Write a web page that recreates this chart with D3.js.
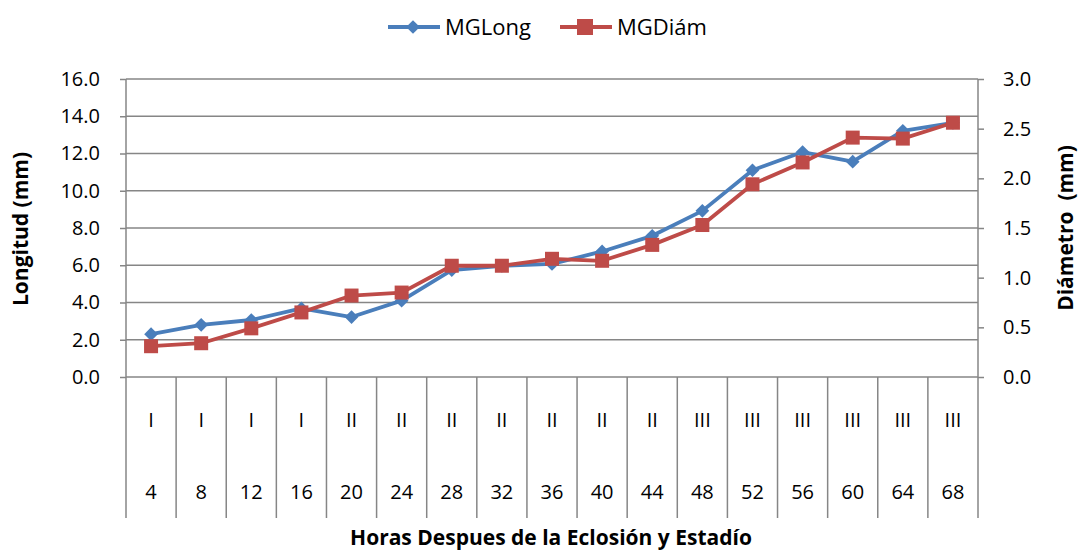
<!DOCTYPE html>
<html>
  <head>
    <meta charset="utf-8" />
    <title>MGLong / MGDiám</title>
    <script src="https://d3js.org/d3.v7.min.js"></script>
    <style>
      body { margin: 0; background: #fff; }
      text { font-family: "Open Sans", sans-serif; fill: #000; }
    </style>
  </head>
  <body>
    <svg id="viz"></svg>

    <script>
        // data
        var horas = ["4", "8", "12", "16", "20", "24", "28", "32", "36", "40", "44", "48", "52", "56", "60", "64", "68"];
        var estadio = ["I", "I", "I", "I", "II", "II", "II", "II", "II", "II", "II", "III", "III", "III", "III", "III", "III"];
        var mgLong = [2.3, 2.8, 3.06, 3.68, 3.22, 4.1, 5.74, 5.97, 6.07, 6.74, 7.58, 8.92, 11.1, 12.08, 11.56, 13.22, 13.65];
        var mgDiam = [0.31, 0.34, 0.49, 0.65, 0.82, 0.85, 1.12, 1.12, 1.19, 1.17, 1.33, 1.53, 1.94, 2.16, 2.41, 2.40, 2.56];
        var leftTicks = [0, 2, 4, 6, 8, 10, 12, 14, 16];
        var rightTicks = [0, 0.5, 1, 1.5, 2, 2.5, 3];

        var width = 1085, height = 551;
        var plotL = 126, plotR = 978, plotT = 79, plotB = 377, sepB = 518;
        var blue = "#4A7EBB", red = "#BE4B48", grid = "#868686";

        var svg = d3.select("#viz")
            .attr("width", width)
            .attr("height", height);

        var x = d3.scaleBand().domain(d3.range(horas.length)).range([plotL, plotR]);
        var yL = d3.scaleLinear().domain([0, 16]).range([plotB, plotT]);
        var yR = d3.scaleLinear().domain([0, 3]).range([plotB, plotT]);

        // gridlines
        svg.append("g").selectAll("line")
            .data(leftTicks)
            .enter().append("line")
            .attr("x1", plotL).attr("x2", plotR)
            .attr("y1", function(d) { return yL(d); })
            .attr("y2", function(d) { return yL(d); })
            .style("stroke", grid).style("stroke-width", 1.5);

        // left and right value axes
        var axL = svg.append("g")
            .attr("transform", "translate(" + plotL + ",0)")
            .call(d3.axisLeft(yL).tickValues(leftTicks).tickFormat(d3.format(".1f")).tickSize(6).tickPadding(20));
        var axR = svg.append("g")
            .attr("transform", "translate(" + plotR + ",0)")
            .call(d3.axisRight(yR).tickValues(rightTicks).tickFormat(d3.format(".1f")).tickSize(6).tickPadding(19));
        [axL, axR].forEach(function(a) {
            a.select(".domain").remove();
            a.selectAll("line").style("stroke", grid).style("stroke-width", 1.5);
            a.selectAll("text")
                .style("font-size", "20px")
                .style("font-family", "'Open Sans', sans-serif")
                .attr("fill", "#000");
        });

        // category separators (edges run the full height)
        var seps = d3.range(horas.length + 1).map(function(i) {
            return i < horas.length ? x(i) : plotR;
        });
        svg.append("g").selectAll("line")
            .data(seps)
            .enter().append("line")
            .attr("x1", function(d) { return d; }).attr("x2", function(d) { return d; })
            .attr("y1", function(d, i) { return (i === 0 || i === horas.length) ? plotT : plotB; })
            .attr("y2", sepB)
            .style("stroke", grid).style("stroke-width", 1.5);

        // category labels, two levels
        var cx = function(d, i) { return x(i) + x.bandwidth() / 2; };
        svg.append("g").selectAll("text")
            .data(estadio)
            .enter().append("text")
            .attr("x", cx)
            .attr("y", 427)
            .attr("text-anchor", "middle")
            .style("font-size", "20px")
            .text(function(d) { return d; });
        svg.append("g").selectAll("text")
            .data(horas)
            .enter().append("text")
            .attr("x", cx)
            .attr("y", 499)
            .attr("text-anchor", "middle")
            .style("font-size", "20px")
            .text(function(d) { return d; });

        // series
        var lineL = d3.line().x(cx).y(function(d) { return yL(d); });
        var lineR = d3.line().x(cx).y(function(d) { return yR(d); });

        svg.append("path").datum(mgLong)
            .attr("d", lineL)
            .attr("fill", "none")
            .style("stroke", blue).style("stroke-width", 3.8).style("stroke-linejoin", "round");
        svg.append("g").selectAll("path")
            .data(mgLong)
            .enter().append("path")
            .attr("d", d3.symbol().type(d3.symbolDiamond2).size(120))
            .attr("transform", function(d, i) { return "translate(" + cx(d, i) + "," + yL(d) + ")"; })
            .attr("fill", blue);

        svg.append("path").datum(mgDiam)
            .attr("d", lineR)
            .attr("fill", "none")
            .style("stroke", red).style("stroke-width", 3.8).style("stroke-linejoin", "round");
        svg.append("g").selectAll("rect")
            .data(mgDiam)
            .enter().append("rect")
            .attr("x", function(d, i) { return cx(d, i) - 7; })
            .attr("y", function(d) { return yR(d) - 7; })
            .attr("width", 14).attr("height", 14)
            .attr("fill", red);

        // axis titles
        svg.append("text")
            .attr("transform", "translate(28,229) rotate(-90)")
            .attr("text-anchor", "middle")
            .style("font-size", "21px").style("font-weight", "bold")
            .text("Longitud (mm)");
        svg.append("text")
            .attr("transform", "translate(1073,228) rotate(-90)")
            .attr("text-anchor", "middle")
            .style("font-size", "21px").style("font-weight", "bold")
            .style("white-space", "pre")
            .text("Diámetro  (mm)");
        svg.append("text")
            .attr("x", 551).attr("y", 545)
            .attr("text-anchor", "middle")
            .style("font-size", "21px").style("font-weight", "bold")
            .text("Horas Despues de la Eclosión y Estadío");

        // legend
        var legend = [
            {name: "MGLong", color: blue, x: 388, shape: "diamond"},
            {name: "MGDiám", color: red, x: 560, shape: "square"}
        ];
        var lg = svg.append("g").selectAll("g")
            .data(legend)
            .enter().append("g")
            .attr("transform", function(d) { return "translate(" + d.x + ",27)"; });
        lg.append("line")
            .attr("x1", 0).attr("x2", 52).attr("y1", 0).attr("y2", 0)
            .style("stroke", function(d) { return d.color; }).style("stroke-width", 3.8);
        lg.append("path")
            .attr("d", function(d) {
                return d.shape === "diamond"
                    ? d3.symbol().type(d3.symbolDiamond2).size(120)()
                    : "M-8,-8h16v16h-16z";
            })
            .attr("transform", "translate(25,0)")
            .attr("fill", function(d) { return d.color; });
        lg.append("text")
            .attr("x", 57).attr("y", 8)
            .style("font-size", "22px")
            .text(function(d) { return d.name; });
    </script>
  </body>
</html>
